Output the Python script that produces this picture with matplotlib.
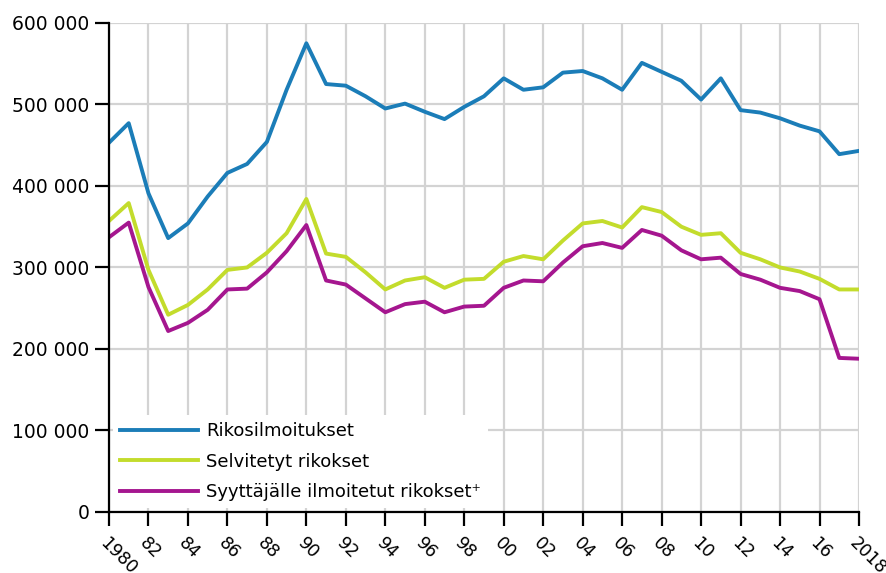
import matplotlib
matplotlib.use('Agg')
import matplotlib.pyplot as plt

years = list(range(1980, 2019))

# Rikosilmoitukset
reported = [453000, 477000, 391000, 336000, 354000, 387000, 416000, 427000, 454000, 518000,
            575000, 525000, 523000, 510000, 495000, 501000, 491000, 482000, 497000, 510000,
            532000, 518000, 521000, 539000, 541000, 532000, 518000, 551000, 540000, 529000,
            506000, 532000, 493000, 490000, 483000, 474000, 467000, 439000, 443000]

# Selvitetyt rikokset
solved = [357000, 379000, 297000, 242000, 254000, 273000, 297000, 300000, 318000, 342000,
          384000, 317000, 313000, 294000, 273000, 284000, 288000, 275000, 285000, 286000,
          307000, 314000, 310000, 333000, 354000, 357000, 349000, 374000, 368000, 350000,
          340000, 342000, 318000, 310000, 300000, 295000, 286000, 273000, 273000]

# Syyttäjälle ilmoitetut rikokset
prosecutor = [337000, 355000, 276000, 222000, 232000, 248000, 273000, 274000, 294000, 320000,
              352000, 284000, 279000, 262000, 245000, 255000, 258000, 245000, 252000, 253000,
              275000, 284000, 283000, 306000, 326000, 330000, 324000, 346000, 339000, 321000,
              310000, 312000, 292000, 285000, 275000, 271000, 261000, 189000, 188000]

labels = ['Rikosilmoitukset', 'Selvitetyt rikokset', 'Syyttäjälle ilmoitetut rikokset⁺']
colors = ['#1b7db8', '#c3dc2c', '#a5168f']

xtick_pos = list(range(1980, 2019, 2))
xtick_lab = ['1980'] + ['%02d' % (y % 100) for y in xtick_pos[1:-1]] + ['2018']
ytick_pos = [0, 100000, 200000, 300000, 400000, 500000, 600000]
ytick_lab = ['0', '100 000', '200 000', '300 000', '400 000', '500 000', '600 000']

plt.rcParams['font.family'] = 'DejaVu Sans'

fig = plt.figure(figsize=(8.86, 5.73), dpi=100)
ax = fig.add_axes([0.123, 0.1065, 0.8465, 0.8535])

for data, lab, c in zip([reported, solved, prosecutor], labels, colors):
    ax.plot(years, data, color=c, linewidth=2.8, label=lab)

ax.set_xlim(1980, 2018)
ax.set_ylim(0, 600000)
ax.set_xticks(xtick_pos)
ax.set_xticklabels(xtick_lab, rotation=-45, ha='left', va='top',
                   rotation_mode='anchor', fontsize=12.5)
ax.set_yticks(ytick_pos)
ax.set_yticklabels(ytick_lab, fontsize=13.5)

ax.grid(True, color='#d3d3d3', linewidth=1.6)
ax.set_axisbelow(True)
for s in ['top', 'right']:
    ax.spines[s].set_visible(False)
for s in ['left', 'bottom']:
    ax.spines[s].set_linewidth(1.6)
    ax.spines[s].set_zorder(5)
ax.tick_params(direction='out', length=10, width=1.6, colors='black', pad=4)
ax.tick_params(axis='x', pad=6)

leg = ax.legend(loc='lower left', frameon=True, fancybox=False,
                edgecolor='white', framealpha=1, fontsize=13,
                handlelength=4.3, handletextpad=0.45, labelspacing=0.68,
                borderaxespad=0.2, borderpad=0.41)
leg.get_frame().set_linewidth(0)

fig.savefig('out.png', dpi=100)
